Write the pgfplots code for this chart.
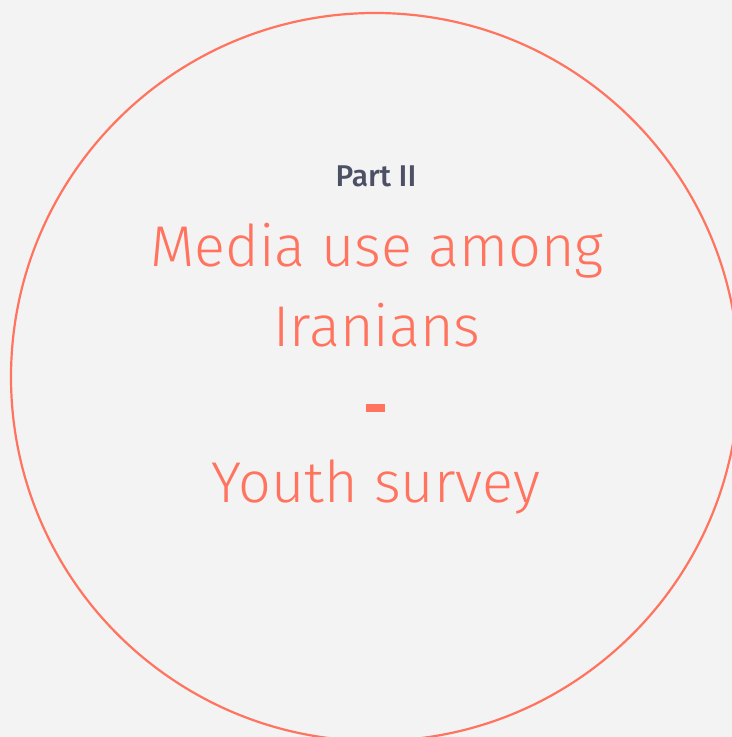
\documentclass[border=0pt]{standalone}
\usepackage{fontspec}
\setmainfont{Fira Sans}
\newfontfamily\lightfont{Fira Sans Light}
\newfontfamily\medfont{Fira Sans Medium}
\usepackage{pgfplots}
\pgfplotsset{compat=1.18}

\definecolor{bg}{HTML}{F3F3F3}
\definecolor{coral}{HTML}{FF735F}
\definecolor{slate}{HTML}{4B5064}

\begin{document}
\begin{tikzpicture}
  % page = 732 x 737 px, one axis unit = one pixel
  \path[use as bounding box] (0,0) rectangle (732bp,737bp);
  \fill[bg] (0,0) rectangle (732bp,737bp);
  \clip (0,0) rectangle (732bp,737bp);
  \begin{axis}[
      at={(0,0)}, anchor=south west,
      width=732bp, height=737bp, scale only axis,
      xmin=0, xmax=732, ymin=0, ymax=737,
      hide axis, clip=false,
    ]
    % ring
    \draw[coral, line width=2.2bp] (axis cs:375,360) circle[radius=364];

    \node[anchor=base, text=slate, font=\medfont\fontsize{30bp}{30bp}\selectfont]
      at (axis cs:376,550) {Part II};
    \node[anchor=base, text=coral, font=\lightfont\fontsize{57.5bp}{57.5bp}\selectfont]
      at (axis cs:377,470) {Media use among};
    \node[anchor=base, text=coral, font=\lightfont\fontsize{57.5bp}{57.5bp}\selectfont]
      at (axis cs:377,390) {Iranians};
    \fill[coral] (axis cs:366,325) rectangle (axis cs:385,333);
    \node[anchor=base, text=coral, font=\lightfont\fontsize{57.5bp}{57.5bp}\selectfont]
      at (axis cs:376,234) {Youth survey};
  \end{axis}
\end{tikzpicture}
\end{document}
